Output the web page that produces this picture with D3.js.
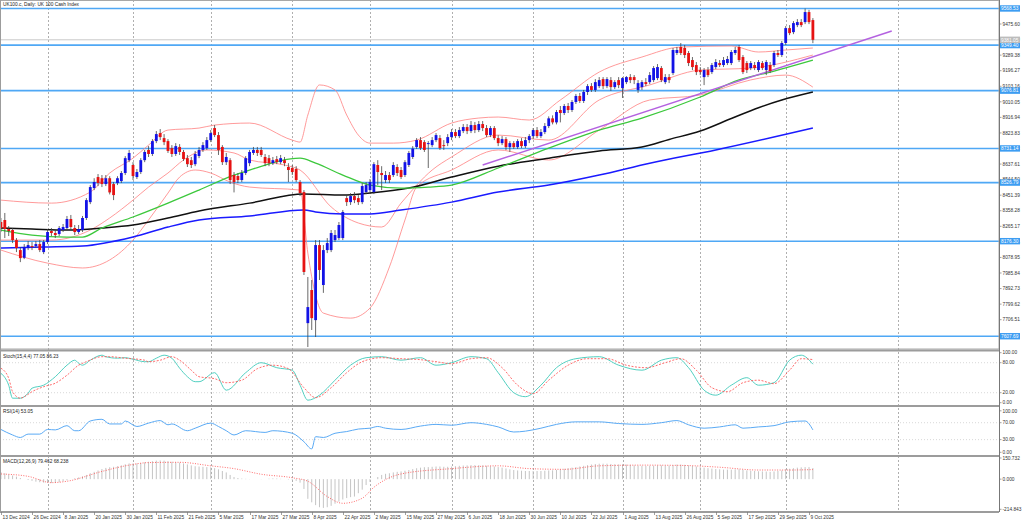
<!DOCTYPE html>
<html>
<head>
<meta charset="utf-8">
<script src="https://cdn.jsdelivr.net/npm/d3@7"></script>
<style>
body { margin: 0; background: #fff; }
svg { display: block; }
text { font-family: "Liberation Sans", Arial, sans-serif; }
</style>
</head>
<body>
<svg id="chart" width="1024" height="522"></svg>
<script>
// daily bars, UK100 cash, 13 Dec 2024 .. 10 Oct 2025
var opens = [8291,8303,8249,8243,8183,8123,8077,8135,8147,8147, 8159,8111,8171,8237,8225,8219,8243,8255,8309,8255,
  8231,8243,8315,8410,8494,8560,8553,8518,8553,8518, 8524,8536,8584,8661,8632,8560,8590,8661,8722,8698,
  8775,8823,8793,8775,8733,8698,8740,8710,8673,8661, 8637,8686,8722,8733,8781,8853,8811,8740,8649,8661,
  8572,8566,8542,8584,8643,8704,8722,8722,8680,8673, 8643,8667,8649,8661,8620,8614,8608,8530,8470,7686,
  7884,7704,8153,7914,8123,8123,8183,8195,8195,8434, 8410,8446,8434,8410,8470,8482,8470,8632,8584,8542,
  8572,8572,8620,8602,8572,8632,8680,8740,8781,8769, 8757,8751,8781,8793,8751,8763,8799,8829,8805,8835,
  8859,8835,8871,8841,8877,8853,8811,8853,8793,8763, 8787,8739,8763,8739,8775,8745,8781,8805,8841,8805,
  8829,8865,8911,8887,8961,8943,8985,8961,9009,9045, 9015,9069,9104,9081,9104,9146,9104,9140,9098,9140,
  9092,9128,9158,9158,9081,9098,9128,9128,9140,9152, 9212,9128,9158,9182,9302,9338,9332,9302,9260,9230,
  9200,9158,9200,9188,9218,9242,9230,9242,9242,9302, 9338,9278,9242,9212,9230,9200,9242,9200,9230,9230,
  9302,9290,9362,9451,9427,9469,9487,9487,9547,9499];
var highs = [8315,8345,8267,8255,8195,8141,8159,8177,8171,8177, 8183,8183,8249,8255,8249,8267,8279,8327,8333,8273,
  8273,8327,8434,8512,8553,8578,8572,8572,8565,8530, 8565,8596,8685,8722,8649,8608,8673,8722,8745,8787,
  8835,8847,8817,8787,8751,8763,8757,8722,8692,8680, 8716,8740,8769,8799,8841,8871,8829,8751,8704,8673,
  8590,8584,8602,8685,8722,8740,8740,8740,8698,8692, 8680,8686,8692,8680,8643,8632,8625,8542,8482,7962,
  7944,8183,8183,8153,8195,8243,8243,8291,8363,8452, 8464,8470,8452,8524,8530,8548,8649,8661,8625,8596,
  8590,8649,8637,8620,8661,8716,8745,8793,8799,8781, 8775,8799,8823,8811,8781,8817,8847,8847,8859,8877,
  8877,8895,8889,8895,8895,8871,8865,8865,8811,8805, 8799,8775,8775,8787,8793,8799,8817,8853,8859,8847,
  8883,8923,8929,8961,8985,8997,9003,9021,9057,9063, 9081,9116,9122,9146,9158,9158,9158,9158,9140,9158,
  9158,9164,9176,9170,9140,9140,9152,9188,9224,9236, 9224,9176,9176,9332,9338,9362,9350,9314,9278,9248,
  9218,9212,9218,9242,9266,9260,9278,9284,9320,9338, 9350,9290,9254,9254,9248,9260,9254,9260,9248,9314,
  9320,9374,9463,9469,9493,9505,9505,9568,9560,9511];
var lows = [8231,8195,8207,8165,8111,8051,8069,8123,8123,8135, 8111,8099,8159,8207,8195,8207,8231,8243,8249,8213,
  8219,8231,8303,8398,8482,8506,8500,8506,8456,8422, 8512,8524,8572,8649,8542,8548,8578,8649,8680,8686,
  8763,8781,8751,8704,8680,8686,8692,8656,8620,8614, 8625,8673,8710,8722,8769,8799,8692,8632,8632,8518,
  8468,8524,8530,8572,8625,8692,8686,8680,8625,8625, 8632,8637,8637,8625,8530,8572,8530,8446,7974,7543,
  7645,7603,7944,7867,8105,8111,8171,8183,8183,8387, 8393,8404,8393,8398,8458,8470,8458,8512,8482,8524,
  8524,8560,8566,8548,8560,8620,8668,8728,8722,8710, 8614,8739,8769,8722,8722,8745,8781,8793,8793,8823,
  8817,8823,8823,8829,8835,8799,8799,8781,8745,8751, 8722,8710,8728,8728,8733,8733,8763,8787,8793,8793,
  8817,8853,8875,8875,8887,8931,8943,8949,8997,9003, 9003,9051,9069,9069,9092,9086,9092,9075,9086,9092,
  9033,9116,9122,9116,9063,9081,9104,9116,9128,9140, 9128,9116,9122,9170,9290,9290,9272,9224,9200,9170,
  9170,9110,9158,9176,9206,9218,9218,9230,9230,9290, 9248,9176,9182,9200,9200,9188,9200,9170,9182,9218,
  9278,9278,9350,9409,9415,9457,9457,9475,9475,9361];
var closes = [8255,8249,8237,8183,8135,8075,8141,8153,8141,8159, 8123,8171,8231,8225,8213,8255,8261,8309,8261,8231,
  8249,8315,8422,8500,8530,8524,8518,8553,8468,8452, 8553,8584,8673,8704,8566,8590,8661,8710,8698,8775,
  8817,8799,8769,8716,8698,8745,8710,8668,8637,8632, 8698,8722,8751,8781,8823,8811,8722,8649,8680,8542,
  8530,8542,8584,8673,8710,8722,8704,8692,8643,8643, 8661,8649,8673,8643,8602,8590,8542,8464,7992,7782,
  7716,8153,8004,8123,8165,8225,8213,8273,8351,8410, 8446,8422,8410,8506,8512,8530,8637,8590,8572,8572,
  8542,8632,8584,8560,8649,8704,8730,8781,8733,8722, 8763,8781,8811,8733,8745,8799,8829,8805,8841,8859,
  8835,8871,8841,8877,8853,8811,8853,8793,8763,8787, 8739,8763,8739,8775,8745,8781,8805,8841,8805,8829,
  8865,8911,8887,8949,8943,8985,8961,9009,9045,9015, 9069,9104,9081,9128,9140,9104,9146,9098,9128,9110,
  9152,9158,9140,9140,9122,9128,9116,9170,9212,9218, 9140,9158,9140,9320,9320,9302,9290,9242,9218,9188,
  9188,9200,9170,9230,9248,9230,9260,9266,9308,9320, 9260,9188,9200,9242,9212,9248,9212,9248,9194,9302,
  9290,9362,9451,9421,9481,9487,9469,9547,9487,9381.05];

// moving averages and bands, [bar, price]
var maGreen = [[0,8243],[8,8213],[17,8201],[21,8201],[26,8255],[34,8321],[43,8404],[51,8482],[60,8572],[64,8602],
  [77,8673],[81,8643],[88,8572],[95,8512],[103,8494],[110,8500],[116,8512],[128,8614],[141,8733],[154,8841],
  [165,8913],[180,9039],[190,9141],[197,9182],[209,9260]];
var maBlack = [[0,8255],[8,8249],[17,8243],[26,8255],[34,8273],[43,8315],[51,8357],[64,8404],[78,8458],[88,8452],
  [95,8464],[105,8494],[116,8560],[128,8625],[141,8673],[154,8716],[165,8740],[172,8785],[180,8835],[188,8910],
  [195,8975],[201,9021],[209,9069]];
var maBlue = [[0,8135],[11,8141],[21,8147],[34,8201],[43,8261],[51,8303],[64,8327],[78,8363],[81,8351],[88,8339],
  [95,8339],[103,8363],[116,8410],[128,8470],[141,8512],[154,8572],[167,8643],[184,8722],[209,8853]];
var bbUpper = [[0,8422],[13,8404],[23,8470],[28,8584],[34,8673],[38,8751],[43,8841],[51,8853],[55,8871],[64,8883],
  [75,8781],[77,8769],[79,8931],[82,9111],[86,9081],[89,8931],[92,8811],[95,8763],[101,8763],[107,8781],
  [116,8883],[123,8913],[128,8919],[136,8901],[144,9021],[154,9188],[165,9278],[175,9338],[188,9344],[195,9308],
  [202,9320],[209,9332]];
var bbMiddle = [[0,8183],[13,8183],[23,8243],[28,8315],[34,8422],[38,8500],[43,8584],[47,8662],[53,8722],[60,8704],
  [64,8662],[73,8632],[77,8602],[85,8381],[92,8285],[98,8261],[103,8404],[111,8602],[116,8680],[128,8811],
  [141,8781],[154,9021],[167,9111],[180,9200],[193,9212],[209,9290]];
var bbLower = [[0,8123],[12,8045],[21,8016],[28,8064],[34,8183],[38,8303],[43,8464],[46,8560],[50,8602],[54,8584],
  [59,8530],[64,8500],[77,8482],[79,8105],[83,7746],[90,7716],[95,7776],[100,8022],[104,8303],[107,8500],
  [116,8602],[128,8722],[141,8662],[154,8841],[167,9021],[180,9051],[193,9141],[202,9170],[209,9098]];
var trendLine = [[124,8632],[229.3,9434]];
var levels = [9568.53, 9349.40, 9076.81, 8731.14, 8526.79, 8176.30, 7607.69];
var lastPrice = 9381.05;
var priceTicks = [9475.60,9382.49,9289.38,9196.27,9103.16,9010.05,8916.94,8823.83,8730.72,8637.61,
  8544.50,8451.39,8358.28,8265.17,8172.06,8078.95,7985.84,7892.73,7799.62,7706.51];

// oscillators, [bar, value]
var stochMain = [[0,59],[2,35],[3,9],[5,9],[7,19],[8,29],[11,35],[14,52],[17,75],[19,85],[20,79],[21,75],[23,85],
  [26,95],[27,92],[30,89],[32,90],[34,87],[37,82],[38,82],[40,89],[42,95],[44,89],[46,69],[48,52],[50,42],[51,42],
  [55,60],[58,25],[63,60],[67,80],[71,70],[75,65],[77,35],[79,5],[82,15],[86,45],[90,75],[94,90],[98,92],[103,85],
  [108,90],[112,75],[116,80],[121,92],[125,88],[128,60],[132,20],[135,12],[139,35],[143,70],[148,88],[154,92],
  [159,75],[165,65],[170,85],[174,90],[177,70],[181,25],[184,15],[188,35],[192,50],[195,35],[199,40],[203,85],
  [206,95],[209,77.05]];
var stochSignal = [[0,69],[2,49],[3,22],[5,9],[6,12],[8,22],[11,32],[14,39],[17,55],[20,75],[22,82],[26,92],[28,92],
  [32,89],[37,85],[38,82],[41,85],[44,92],[46,85],[49,65],[51,52],[55,48],[58,40],[62,45],[66,68],[70,75],[74,68],
  [78,30],[81,10],[85,30],[89,60],[93,82],[98,90],[103,88],[108,86],[112,82],[116,78],[121,88],[125,90],[129,70],
  [133,35],[137,18],[141,45],[146,75],[151,88],[156,88],[161,75],[166,70],[171,80],[175,88],[179,65],[183,30],
  [187,22],[191,40],[195,45],[199,38],[203,65],[206,88],[209,86.23]];
var rsi = [[0,54],[3,41],[5,35],[7,43],[10,43],[12,54],[14,53],[17,63],[19,51],[20,51],[23,74],[26,78],[28,67],
  [31,67],[32,74],[35,61],[38,69],[41,75],[43,65],[44,67],[48,51],[50,57],[54,69],[56,61],[58,51],[60,41],[63,51],
  [68,47],[70,51],[75,45],[78,25],[80,8],[81,37],[83,35],[86,45],[89,49],[92,55],[95,57],[97,61],[99,57],[103,54],
  [108,62],[112,66],[116,64],[121,70],[125,66],[128,60],[132,48],[135,50],[139,57],[143,66],[148,72],[154,72],
  [159,68],[165,66],[170,70],[174,75],[177,65],[181,57],[185,60],[189,65],[191,57],[195,60],[199,63],[203,72],
  [207,74],[209,53.05]];
var macdMain = [50,42,34,26,18,8,0,-6,-12,-18, -22,-25,-27,-28,-27,-22,-15,-8,0,6,
  12,20,30,42,52,62,72,80,85,88, 92,98,106,112,112,112,115,120,124,128,
  132,133,132,128,124,120,118,112,105,98, 92,90,88,86,84,78,70,58,48,30,
  15,8,4,2,1,0,0,-1,0,3, 5,4,2,0,-3,-6,-12,-25,-70,-140,
  -165,-185,-200,-205,-200,-190,-175,-160,-145,-135, -128,-124,-100,-75,-42,-20,0,15,30,38,
  42,48,52,55,60,65,72,78,82,85, 86,88,90,90,88,88,90,92,95,97,
  98,100,100,100,98,95,92,90,86,82, 76,70,65,62,60,58,58,58,58,58,
  60,62,63,66,70,74,78,82,86,90, 95,100,104,108,110,110,110,108,106,105,
  105,104,102,98,96,95,94,95,96,98, 98,97,96,100,104,104,102,98,94,90,
  85,82,78,75,72,70,68,68,68,70, 70,66,62,60,58,56,55,54,52,55,
  58,62,70,74,78,82,84,86,86,79.462];
var macdSignal = [[0,37],[7,20],[13,-25],[17,-15],[26,55],[33,100],[38,118],[46,120],[54,95],[60,75],[67,35],
  [75,10],[79,-15],[84,-124],[88,-172],[93,-136],[96,-58],[103,37],[116,75],[128,95],[136,75],[145,70],[154,95],
  [165,100],[175,98],[185,85],[195,65],[203,65],[209,68.238]];

var dateTicks = ["13 Dec 2024","26 Dec 2024","8 Jan 2025","20 Jan 2025","30 Jan 2025","11 Feb 2025","21 Feb 2025",
  "5 Mar 2025","17 Mar 2025","27 Mar 2025","8 Apr 2025","22 Apr 2025","2 May 2025","15 May 2025","27 May 2025",
  "6 Jun 2025","18 Jun 2025","30 Jun 2025","10 Jul 2025","22 Jul 2025","1 Aug 2025","13 Aug 2025","26 Aug 2025",
  "5 Sep 2025","17 Sep 2025","29 Sep 2025","9 Oct 2025"];
var monthStarts = [12,34,54,75,95,116,137,160,180,202,231];

var svg = d3.select("#chart");
var W = 999;

var x = d3.scaleLinear().domain([0, 208]).range([0.92, 809]);
var y = d3.scaleLinear().domain([7706.51, 9475.60]).range([319.7, 24]);
var yStoch = d3.scaleLinear().domain([0, 100]).range([402.7, 352.7]);
var yRsi = d3.scaleLinear().domain([0, 100]).range([452.3, 410]);
var yMacd = d3.scaleLinear().domain([-214.843, 150.732]).range([509.3, 458]);

var panels = [[0, 349], [351.5, 405], [407, 455], [457, 512]];
panels.forEach(function(p, k) {
  svg.append("clipPath").attr("id", "clip" + k)
    .append("rect").attr("x", 0).attr("y", p[0]).attr("width", W).attr("height", p[1] - p[0]);
});

// month grid
svg.append("g").selectAll("line").data(monthStarts).enter().append("line")
  .attr("x1", function(d) { return Math.round(x(d)) + 0.5; })
  .attr("x2", function(d) { return Math.round(x(d)) + 0.5; })
  .attr("y1", 0).attr("y2", 512)
  .attr("stroke", "#9a9a9a").attr("stroke-width", 0.8).attr("stroke-dasharray", "2,2");

// main panel
var main = svg.append("g").attr("clip-path", "url(#clip0)");

main.selectAll("line.lvl").data(levels).enter().append("line").attr("class", "lvl")
  .attr("x1", 0).attr("x2", W).attr("y1", function(d) { return y(d); }).attr("y2", function(d) { return y(d); })
  .attr("stroke", "#4fa8f5").attr("stroke-width", 1.6);
main.append("line").attr("x1", 0).attr("x2", W).attr("y1", y(lastPrice)).attr("y2", y(lastPrice))
  .attr("stroke", "#c4c4c4").attr("stroke-width", 0.9);

function priceLine(data, color, width) {
  main.append("path").datum(data)
    .attr("d", d3.line().x(function(d) { return x(d[0]); }).y(function(d) { return y(d[1]); }).curve(d3.curveMonotoneX))
    .attr("fill", "none").attr("stroke", color).attr("stroke-width", width);
}
priceLine(bbUpper, "#ff8080", 0.8);
priceLine(bbMiddle, "#ff8080", 0.8);
priceLine(bbLower, "#ff8080", 0.8);
priceLine(maBlue, "#1a1aff", 1.5);
priceLine(maBlack, "#111111", 1.5);
priceLine(maGreen, "#3cc83c", 1.3);
main.append("line")
  .attr("x1", x(trendLine[0][0])).attr("y1", y(trendLine[0][1]))
  .attr("x2", x(trendLine[1][0])).attr("y2", y(trendLine[1][1]))
  .attr("stroke", "#b462e0").attr("stroke-width", 1.5);

var bars = main.append("g").selectAll("g").data(closes).enter().append("g");
bars.append("line")
  .attr("x1", function(d, i) { return x(i); }).attr("x2", function(d, i) { return x(i); })
  .attr("y1", function(d, i) { return y(highs[i]); }).attr("y2", function(d, i) { return y(lows[i]); })
  .attr("stroke", "#444").attr("stroke-width", 0.8);
bars.append("rect")
  .attr("x", function(d, i) { return x(i) - 1.4; }).attr("width", 2.8)
  .attr("y", function(d, i) { return y(Math.max(opens[i], d)); })
  .attr("height", function(d, i) { return Math.max(0.8, Math.abs(y(opens[i]) - y(d))); })
  .attr("fill", function(d, i) { return d >= opens[i] ? "#1212e6" : "#e61212"; });

// stochastic
var st = svg.append("g").attr("clip-path", "url(#clip1)");
[80, 20].forEach(function(v) {
  st.append("line").attr("x1", 0).attr("x2", W).attr("y1", yStoch(v)).attr("y2", yStoch(v))
    .attr("stroke", "#c8c8c8").attr("stroke-width", 0.7).attr("stroke-dasharray", "1,2");
});
function oscLine(g, sc, data, color, width, dash) {
  g.append("path").datum(data)
    .attr("d", d3.line().x(function(d) { return x(d[0]); }).y(function(d) { return sc(d[1]); }).curve(d3.curveMonotoneX))
    .attr("fill", "none").attr("stroke", color).attr("stroke-width", width)
    .attr("stroke-dasharray", dash || null);
}
oscLine(st, yStoch, stochMain, "#52cfc0", 1);
oscLine(st, yStoch, stochSignal, "#ff5a5a", 0.9, "2,1.5");

// rsi
var rs = svg.append("g").attr("clip-path", "url(#clip2)");
[70, 30].forEach(function(v) {
  rs.append("line").attr("x1", 0).attr("x2", W).attr("y1", yRsi(v)).attr("y2", yRsi(v))
    .attr("stroke", "#c8c8c8").attr("stroke-width", 0.7).attr("stroke-dasharray", "1,2");
});
oscLine(rs, yRsi, rsi, "#5aaaf5", 1);

// macd
var mc = svg.append("g").attr("clip-path", "url(#clip3)");
mc.selectAll("line").data(macdMain).enter().append("line")
  .attr("x1", function(d, i) { return x(i); }).attr("x2", function(d, i) { return x(i); })
  .attr("y1", yMacd(0)).attr("y2", function(d) { return yMacd(d); })
  .attr("stroke", "#bdbdbd").attr("stroke-width", 0.9);
oscLine(mc, yMacd, macdSignal, "#ff5a5a", 0.9, "1,1.5");

// frames and separators
svg.append("rect").attr("x", 0.5).attr("y", 0.5).attr("width", W - 0.5).attr("height", 348.5)
  .attr("fill", "none").attr("stroke", "#a8a8a8").attr("stroke-width", 1);
[350.5, 406, 456, 512].forEach(function(v) {
  svg.append("line").attr("x1", 0).attr("x2", W).attr("y1", v).attr("y2", v)
    .attr("stroke", "#9c9c9c").attr("stroke-width", 1.8);
});
svg.append("line").attr("x1", 0.5).attr("x2", 0.5).attr("y1", 0).attr("y2", 512).attr("stroke", "#9c9c9c");
svg.append("line").attr("x1", W + 0.5).attr("x2", W + 0.5).attr("y1", 0).attr("y2", 512)
  .attr("stroke", "#777").attr("stroke-width", 1);

// right axis labels
var fs = 4.8;
function rightLabel(yy, txt) {
  svg.append("line").attr("x1", W).attr("x2", W + 2.5).attr("y1", yy).attr("y2", yy).attr("stroke", "#777").attr("stroke-width", 0.7);
  svg.append("text").attr("x", W + 3.5).attr("y", yy + 1.7).attr("font-size", fs).attr("fill", "#333").text(txt);
}
priceTicks.forEach(function(v) { rightLabel(y(v), v.toFixed(2)); });
function boxLabel(yy, txt, bg) {
  svg.append("rect").attr("x", W + 1).attr("y", yy - 3.2).attr("width", 20).attr("height", 6.4).attr("fill", bg);
  svg.append("text").attr("x", W + 2).attr("y", yy + 1.7).attr("font-size", fs).attr("fill", "#fff").text(txt);
}
levels.forEach(function(v) { boxLabel(y(v), v.toFixed(2), "#3d9df2"); });
boxLabel(y(lastPrice), lastPrice.toFixed(2), "#bcbcbc");

[[100, "100.00"], [80, "80.00"], [20, "20.00"], [0, "0.00"]].forEach(function(d) { rightLabel(yStoch(d[0]), d[1]); });
[[100, "100.00"], [70, "70.00"], [30, "30.00"], [0, "0.00"]].forEach(function(d) { rightLabel(yRsi(d[0]) + (d[0] == 100 ? 0.8 : 0), d[1]); });
[[150.732, "150.732"], [0, "0.000"], [-214.843, "-214.843"]].forEach(function(d) { rightLabel(yMacd(d[0]), d[1]); });

// date axis
dateTicks.forEach(function(t, k) {
  var xx = Math.round(x(k * 8)) + 0.5;
  svg.append("line").attr("x1", xx).attr("x2", xx).attr("y1", 512).attr("y2", 515).attr("stroke", "#777").attr("stroke-width", 0.7);
  svg.append("text").attr("x", xx + 1).attr("y", 518.5).attr("font-size", fs).attr("fill", "#333").text(t);
});

// captions
svg.append("text").attr("x", 3).attr("y", 6).attr("font-size", fs).attr("fill", "#222").text("UK100.c, Daily:  UK 100 Cash Index");
svg.append("text").attr("x", 3).attr("y", 358).attr("font-size", fs).attr("fill", "#222").text("Stoch(15,4,4) 77.05 86.23");
svg.append("text").attr("x", 3).attr("y", 413).attr("font-size", fs).attr("fill", "#222").text("RSI(14) 53.05");
svg.append("text").attr("x", 3).attr("y", 463).attr("font-size", fs).attr("fill", "#222").text("MACD(12,26,9) 79.462 68.238");
</script>
</body>
</html>
